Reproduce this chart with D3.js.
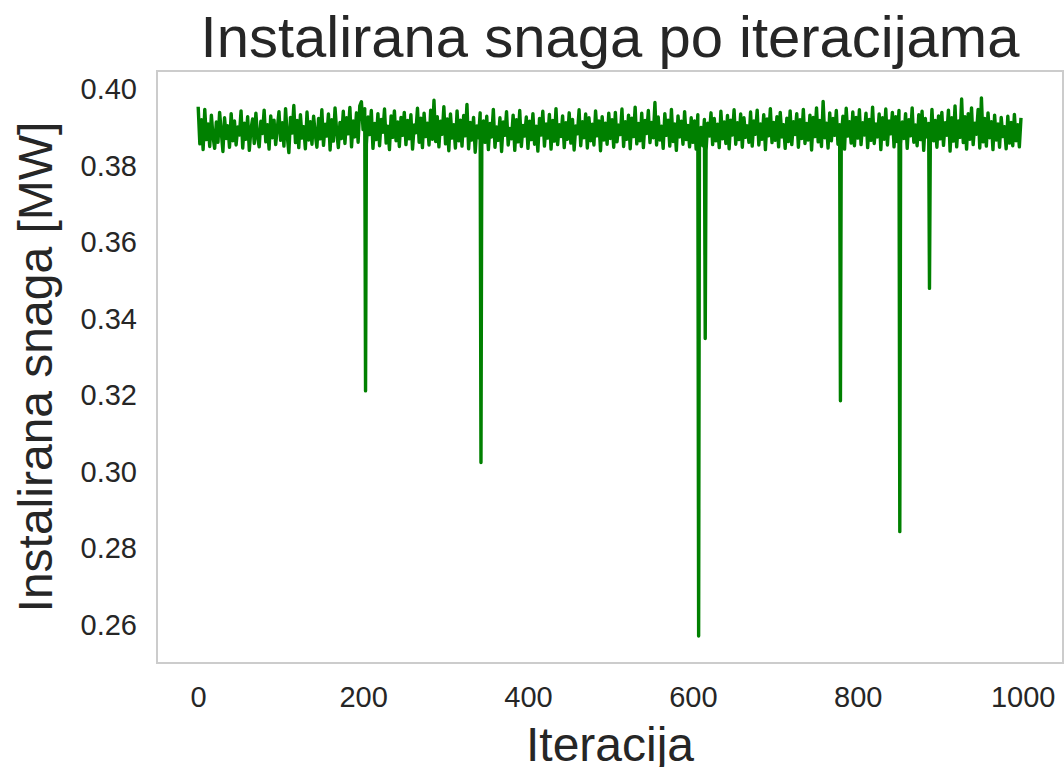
<!DOCTYPE html>
<html>
<head>
<meta charset="utf-8">
<script src="https://cdn.jsdelivr.net/npm/d3@7"></script>
<style>
  body { margin: 0; background: #ffffff; }
  text { font-family: "Liberation Sans", Arial, sans-serif; fill: #262626; }
</style>
</head>
<body>
<div id="chart-container"></div>
<script>
// installed power per iteration, read every 2nd iteration (0, 2, 4 ... 998)
const step = 2;
const snaga = [
  0.3955, 0.3858, 0.3921, 0.3843, 0.3948, 0.3869, 0.3910, 0.3851, 0.3933, 0.3877, 0.3846, 0.3915, 0.3862, 0.3940, 0.3889, 0.3838, 0.3926, 0.3872, 0.3905, 0.3849, 0.3937, 0.3866, 0.3918, 0.3855, 0.3902,
  0.3881, 0.3944, 0.3847, 0.3912, 0.3870, 0.3929, 0.3841, 0.3896, 0.3923, 0.3859, 0.3938, 0.3876, 0.3850, 0.3917, 0.3885, 0.3946, 0.3863, 0.3908, 0.3844, 0.3931, 0.3874, 0.3920, 0.3856, 0.3899, 0.3942,
  0.3867, 0.3913, 0.3852, 0.3950, 0.3879, 0.3835, 0.3927, 0.3886, 0.3958, 0.3861, 0.3919, 0.3848, 0.3934, 0.3873, 0.3903, 0.3845, 0.3941, 0.3868, 0.3916, 0.3857, 0.3930, 0.3883, 0.3849, 0.3924, 0.3871,
  0.3947, 0.3854, 0.3909, 0.3878, 0.3936, 0.3842, 0.3921, 0.3865, 0.3952, 0.3890, 0.3848, 0.3914, 0.3872, 0.3943, 0.3859, 0.3926, 0.3884, 0.3953, 0.3850, 0.3918, 0.3876, 0.3939, 0.3862, 0.3957, 0.3968,
  0.3895, 0.3950, 0.3857, 0.3928, 0.3882, 0.3945, 0.3846, 0.3911, 0.3869, 0.3937, 0.3853, 0.3922, 0.3888, 0.3949, 0.3860, 0.3904, 0.3843, 0.3931, 0.3875, 0.3944, 0.3866, 0.3915, 0.3851, 0.3927, 0.3880,
  0.3940, 0.3856, 0.3919, 0.3871, 0.3934, 0.3844, 0.3907, 0.3887, 0.3951, 0.3862, 0.3925, 0.3848, 0.3938, 0.3877, 0.3912, 0.3855, 0.3946, 0.3870, 0.3972, 0.3864, 0.3929, 0.3850, 0.3917, 0.3883, 0.3955,
  0.3858, 0.3923, 0.3840, 0.3936, 0.3873, 0.3908, 0.3847, 0.3944, 0.3866, 0.3920, 0.3852, 0.3932, 0.3879, 0.3961, 0.3845, 0.3914, 0.3868, 0.3927, 0.3836, 0.3905, 0.3874, 0.3939, 0.3853, 0.3918, 0.3862,
  0.3930, 0.3843, 0.3911, 0.3876, 0.3948, 0.3849, 0.3902, 0.3867, 0.3926, 0.3838, 0.3915, 0.3880, 0.3942, 0.3855, 0.3898, 0.3871, 0.3933, 0.3841, 0.3921, 0.3863, 0.3945, 0.3851, 0.3906, 0.3878, 0.3928,
  0.3846, 0.3917, 0.3869, 0.3937, 0.3857, 0.3904, 0.3839, 0.3924, 0.3881, 0.3943, 0.3852, 0.3910, 0.3873, 0.3935, 0.3844, 0.3919, 0.3865, 0.3950, 0.3856, 0.3908, 0.3877, 0.3931, 0.3848, 0.3913, 0.3870,
  0.3939, 0.3860, 0.3922, 0.3842, 0.3905, 0.3884, 0.3947, 0.3853, 0.3916, 0.3874, 0.3936, 0.3847, 0.3926, 0.3866, 0.3909, 0.3855, 0.3944, 0.3879, 0.3918, 0.3840, 0.3929, 0.3868, 0.3912, 0.3857, 0.3938,
  0.3872, 0.3921, 0.3849, 0.3940, 0.3863, 0.3907, 0.3882, 0.3949, 0.3851, 0.3916, 0.3870, 0.3933, 0.3845, 0.3925, 0.3877, 0.3954, 0.3858, 0.3911, 0.3866, 0.3938, 0.3848, 0.3919, 0.3885, 0.3945, 0.3861,
  0.3914, 0.3874, 0.3966, 0.3855, 0.3928, 0.3868, 0.3904, 0.3846, 0.3937, 0.3880, 0.3920, 0.3852, 0.3948, 0.3864, 0.3910, 0.3841, 0.3931, 0.3876, 0.3917, 0.3857, 0.3942, 0.3869, 0.3906, 0.3850, 0.3926,
  0.3862, 0.3918, 0.3844, 0.3934, 0.3873, 0.3901, 0.3853, 0.3922, 0.3840, 0.3912, 0.3878, 0.3939, 0.3856, 0.3924, 0.3866, 0.3909, 0.3848, 0.3943, 0.3871, 0.3915, 0.3859, 0.3932, 0.3845, 0.3920, 0.3881,
  0.3947, 0.3857, 0.3913, 0.3869, 0.3936, 0.3849, 0.3926, 0.3875, 0.3905, 0.3862, 0.3941, 0.3852, 0.3918, 0.3883, 0.3946, 0.3855, 0.3910, 0.3870, 0.3934, 0.3843, 0.3923, 0.3879, 0.3950, 0.3861, 0.3914,
  0.3867, 0.3929, 0.3850, 0.3940, 0.3876, 0.3908, 0.3846, 0.3925, 0.3864, 0.3944, 0.3856, 0.3916, 0.3882, 0.3937, 0.3849, 0.3921, 0.3872, 0.3948, 0.3859, 0.3911, 0.3868, 0.3933, 0.3842, 0.3927, 0.3877,
  0.3952, 0.3863, 0.3919, 0.3851, 0.3969, 0.3874, 0.3912, 0.3847, 0.3939, 0.3866, 0.3924, 0.3880, 0.3945, 0.3857, 0.3908, 0.3870, 0.3930, 0.3844, 0.3951, 0.3878, 0.3916, 0.3860, 0.3941, 0.3853, 0.3927,
  0.3873, 0.3947, 0.3856, 0.3913, 0.3881, 0.3938, 0.3848, 0.3922, 0.3867, 0.3954, 0.3859, 0.3910, 0.3876, 0.3936, 0.3843, 0.3926, 0.3870, 0.3949, 0.3855, 0.3918, 0.3884, 0.3940, 0.3850, 0.3929, 0.3864,
  0.3945, 0.3858, 0.3915, 0.3872, 0.3937, 0.3846, 0.3921, 0.3879, 0.3952, 0.3862, 0.3907, 0.3853, 0.3934, 0.3869, 0.3943, 0.3841, 0.3924, 0.3876, 0.3911, 0.3856, 0.3948, 0.3866, 0.3919, 0.3849, 0.3931,
  0.3871, 0.3940, 0.3854, 0.3913, 0.3880, 0.3946, 0.3839, 0.3926, 0.3865, 0.3957, 0.3850, 0.3918, 0.3875, 0.3975, 0.3861, 0.3929, 0.3844, 0.3937, 0.3870, 0.3952, 0.3856, 0.3912, 0.3883, 0.3948, 0.3847,
  0.3978, 0.3863, 0.3924, 0.3852, 0.3939, 0.3874, 0.3916, 0.3843, 0.3933, 0.3868, 0.3910, 0.3849, 0.3927, 0.3877, 0.3903, 0.3845, 0.3930, 0.3860, 0.3914, 0.3853, 0.3935, 0.3866, 0.3908, 0.3850, 0.3926
];

// single-iteration drops
const padIteracije = [203, 343, 607, 615, 779, 851, 887];
const padVrijednosti = [0.3212, 0.3025, 0.2571, 0.3349, 0.3186, 0.2844, 0.3480];

const xTicks = [0, 200, 400, 600, 800, 1000];
const yTicks = [0.26, 0.28, 0.30, 0.32, 0.34, 0.36, 0.38, 0.40];

const naslov = "Instalirana snaga po iteracijama";
const xNaziv = "Iteracija";
const yNaziv = "Instalirana snaga [MW]";

const points = snaga.map((v, i) => ({ it: i * step, v: v }))
  .concat(padIteracije.map((it, i) => ({ it: it, v: padVrijednosti[i] })))
  .sort((a, b) => a.it - b.it);

const width = 1064;
const height = 767;
const margin = { top: 71, right: 1, bottom: 104, left: 157 };
const chartWidth = width - margin.left - margin.right;
const chartHeight = height - margin.top - margin.bottom;

const svg = d3.select("#chart-container")
  .append("svg")
  .attr("width", width)
  .attr("height", height);

const chart = svg.append("g")
  .attr("transform", `translate(${margin.left},${margin.top})`);

// matplotlib-like 5% margins
const xExt = [0, 999];
const yExt = d3.extent(points, d => d.v);
const xPad = (xExt[1] - xExt[0]) * 0.05;
const yPad = (yExt[1] - yExt[0]) * 0.05;

const xScale = d3.scaleLinear()
  .domain([xExt[0] - xPad, xExt[1] + xPad])
  .range([0, chartWidth]);

const yScale = d3.scaleLinear()
  .domain([yExt[0] - yPad, yExt[1] + yPad])
  .range([chartHeight, 0]);

// frame
chart.append("rect")
  .attr("x", 0)
  .attr("y", 0)
  .attr("width", chartWidth)
  .attr("height", chartHeight)
  .attr("fill", "none")
  .attr("stroke", "#cccccc")
  .attr("stroke-width", 2);

const xAxis = chart.append("g")
  .attr("class", "x-axis")
  .attr("transform", `translate(0,${chartHeight})`)
  .call(d3.axisBottom(xScale).tickValues(xTicks).tickSize(0).tickPadding(23).tickFormat(d3.format("d")));
xAxis.select(".domain").remove();

const yAxis = chart.append("g")
  .attr("class", "y-axis")
  .call(d3.axisLeft(yScale).tickValues(yTicks).tickSize(0).tickPadding(20).tickFormat(d3.format(".2f")));
yAxis.select(".domain").remove();

svg.selectAll(".tick text")
  .style("font-size", "29px")
  .style("font-family", "'Liberation Sans', Arial, sans-serif")
  .attr("fill", "#262626");

const line = d3.line()
  .x(d => xScale(d.it))
  .y(d => yScale(d.v));

chart.append("path")
  .datum(points)
  .attr("d", line)
  .attr("fill", "none")
  .attr("stroke", "#008000")
  .attr("stroke-width", 3.4)
  .attr("stroke-linejoin", "round");

svg.append("text")
  .attr("x", margin.left + chartWidth / 2)
  .attr("y", 57)
  .attr("text-anchor", "middle")
  .attr("font-size", "58px")
  .text(naslov);

svg.append("text")
  .attr("x", margin.left + chartWidth / 2)
  .attr("y", 761)
  .attr("text-anchor", "middle")
  .attr("font-size", "48px")
  .text(xNaziv);

svg.append("text")
  .attr("transform", `translate(52,${margin.top + chartHeight / 2}) rotate(-90)`)
  .attr("text-anchor", "middle")
  .attr("font-size", "48px")
  .text(yNaziv);
</script>
</body>
</html>
